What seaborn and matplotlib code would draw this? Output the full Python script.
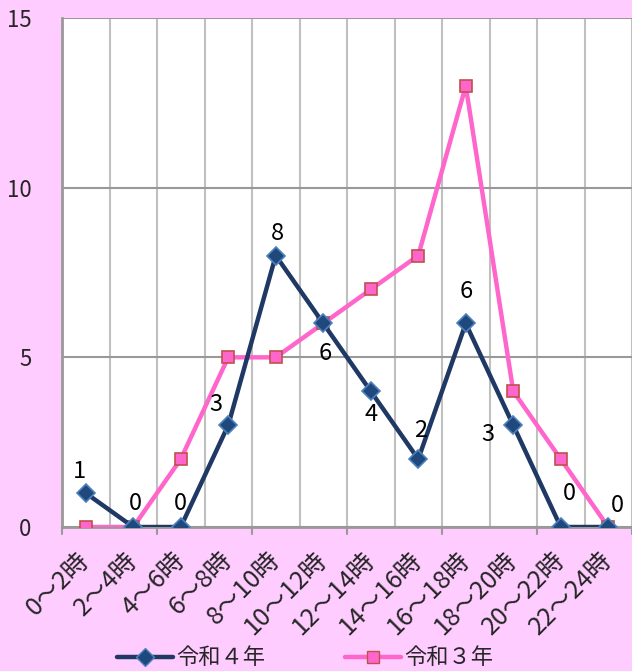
import numpy as np
import pandas as pd
import matplotlib
matplotlib.use('agg')
import matplotlib.pyplot as plt
from matplotlib.lines import Line2D
import seaborn as sns

hours = ['0～2時', '2～4時', '4～6時', '6～8時', '8～10時', '10～12時',
         '12～14時', '14～16時', '16～18時', '18～20時', '20～22時', '22～24時']
r4 = [1, 0, 0, 3, 8, 6, 4, 2, 6, 3, 0, 0]
r3 = [0, 0, 2, 5, 5, 6, 7, 8, 13, 4, 2, 0]

# 令和４年のラベル位置（ピクセル）
r4_label_offsets = [(-6, 22), (2, 24), (0, 24), (-12, 21), (2, 22), (2, -30),
                    (0, -23), (2, 29), (0, 32), (-25, -9), (9, 33), (9, 21)]

df = pd.DataFrame({
    'pos': list(range(len(hours))) * 2,
    'count': r4 + r3,
    'year': ['令和４年'] * len(hours) + ['令和３年'] * len(hours),
})

sns.set_theme(style='white')
plt.rcParams['font.family'] = ['Noto Sans CJK JP', 'DejaVu Sans']

bg = '#FFCCFF'
navy = '#1F3864'
pink = '#FF66CC'

fig = plt.figure(figsize=(6.32, 6.71), dpi=100, facecolor=bg)
ax = fig.add_axes([62 / 632, 1 - 527 / 671, 1 - 62 / 632, (527 - 18) / 671])
ax.set_facecolor('white')

sns.lineplot(data=df[df.year == '令和３年'], x='pos', y='count', ax=ax,
             color=pink, lw=3.2, marker='s', markersize=8,
             markerfacecolor=pink, markeredgecolor='#C0504D', markeredgewidth=1.2,
             legend=False, zorder=3)
sns.lineplot(data=df[df.year == '令和４年'], x='pos', y='count', ax=ax,
             color=navy, lw=3.2, marker='D', markersize=9,
             markerfacecolor='#1F497D', markeredgecolor='#4F81BD', markeredgewidth=1.2,
             legend=False, zorder=4)

for i, (v, off) in enumerate(zip(r4, r4_label_offsets)):
    ax.annotate(str(v), (i, v), xytext=(off[0] * 0.72, off[1] * 0.72),
                textcoords='offset points', ha='center', va='center',
                fontsize=17, color='black', zorder=5)

ax.set_xlim(-0.5, 11.5)
ax.set_ylim(0, 15)
ax.set_yticks([0, 5, 10, 15])
ax.set_xticks(range(len(hours)))
ax.set_xticklabels(hours, rotation=45, ha='right', va='center',
                   rotation_mode='anchor', fontsize=18)
ax.tick_params(axis='x', length=0, pad=21)
ax.set_xticks(np.arange(-0.5, 12, 1), minor=True)
ax.tick_params(axis='x', which='minor', length=0)
ax.tick_params(axis='y', length=6, color='#999999', width=1.5, pad=16, labelsize=16)
for t in ax.get_yticklabels():
    t.set_ha('right')

ax.grid(axis='y', which='major', color='#999999', lw=1.5)
ax.grid(axis='x', which='minor', color='#C0C0C0', lw=1.5)
ax.set_axisbelow(True)

for s in ['top', 'right']:
    ax.spines[s].set_visible(False)
ax.spines['left'].set_color('#999999')
ax.spines['left'].set_linewidth(2)
ax.spines['bottom'].set_color('#999999')
ax.spines['bottom'].set_linewidth(2)

# every other boundary tick below the axis
for b in np.arange(-0.5, 12, 2):
    ax.plot([b, b], [0, -0.2], color='#999999', lw=1.5, clip_on=False)

ax.set_xlabel('')
ax.set_ylabel('')

handles = [
    Line2D([], [], color=navy, lw=3.2, marker='D', markersize=9,
           markerfacecolor='#1F497D', markeredgecolor='#4F81BD'),
    Line2D([], [], color=pink, lw=3.2, marker='s', markersize=8,
           markerfacecolor=pink, markeredgecolor='#C0504D'),
]
fig.legend(handles, ['令和４年', '令和３年'], loc='center', ncol=2,
           bbox_to_anchor=(305 / 632, 1 - 658 / 671), frameon=False,
           fontsize=16, handlelength=2.5, columnspacing=3.6, handletextpad=0.15)

plt.savefig('out.png', dpi=100, facecolor=bg)
